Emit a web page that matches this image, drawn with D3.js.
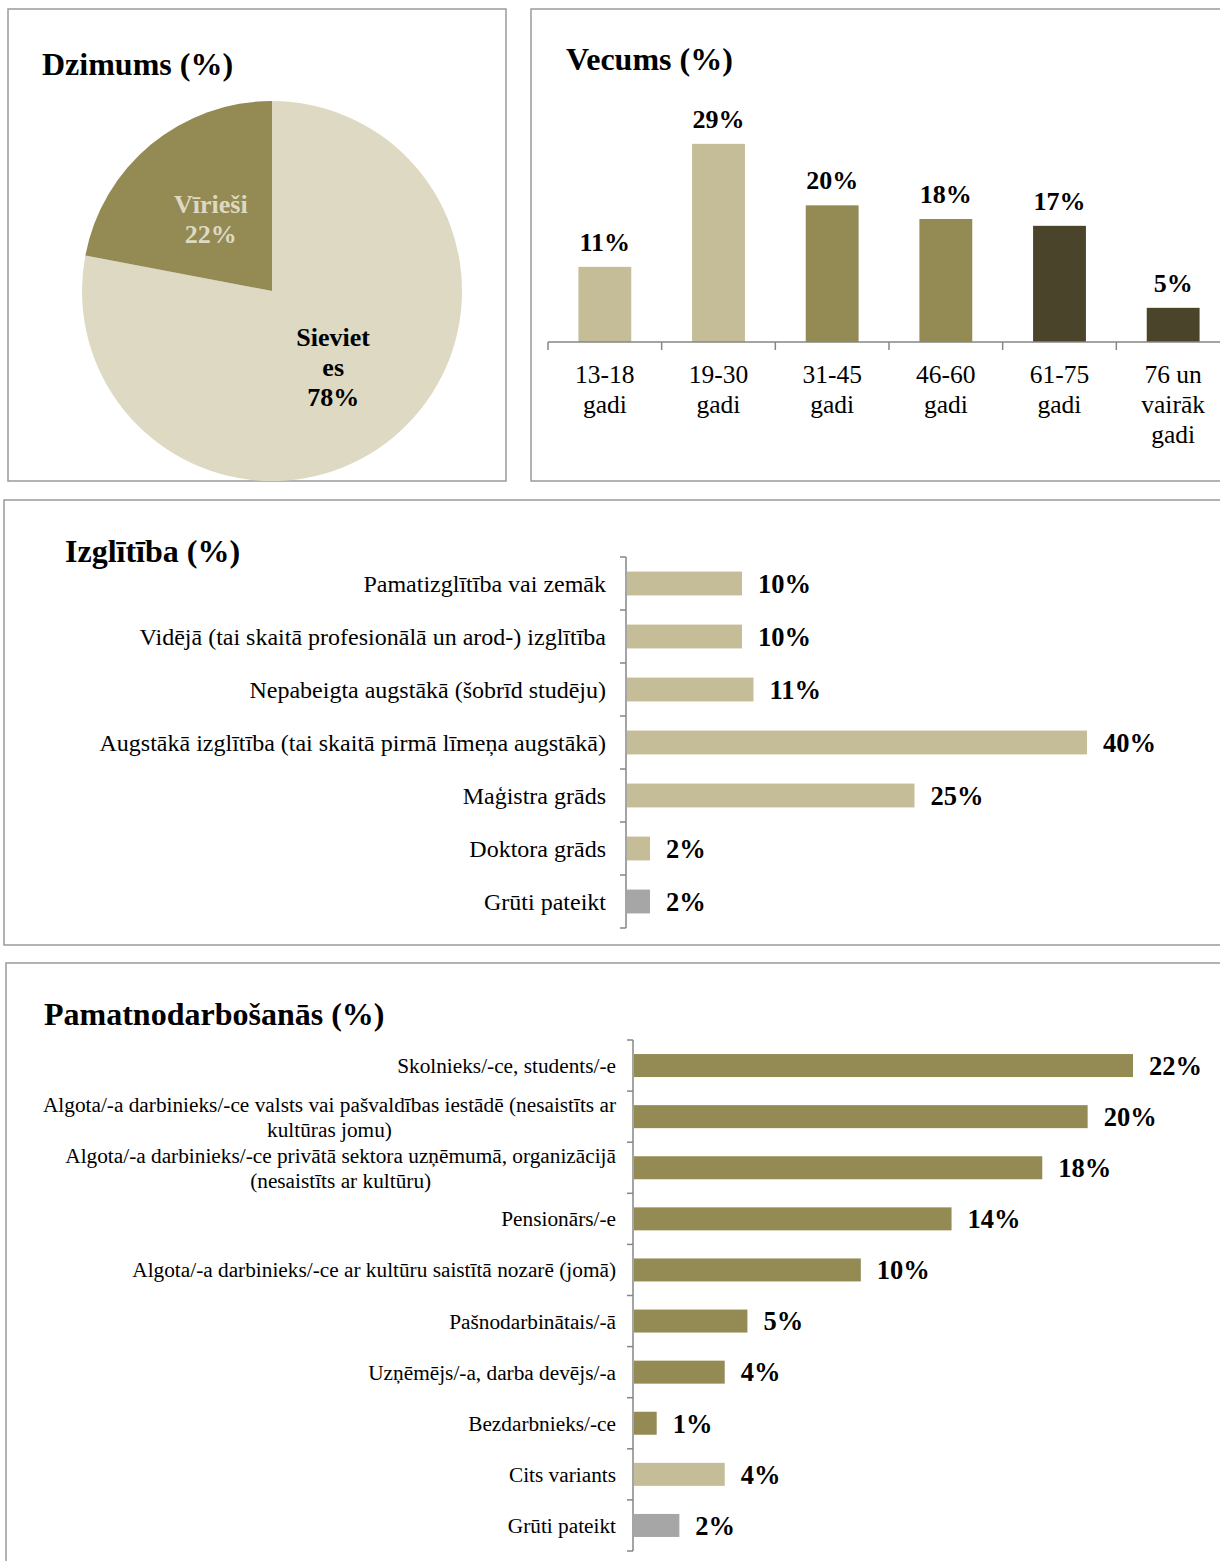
<!DOCTYPE html>
<html>
<head>
<meta charset="utf-8">
<script src="https://cdn.jsdelivr.net/npm/d3@7"></script>
<style>
  body { margin: 0; background: #fff; }
  svg { display: block; }
  text { font-family: "Liberation Serif", "Times New Roman", serif; fill: #000; }
</style>
</head>
<body>
<svg id="chart" width="1220" height="1561"></svg>
<script>
// ---- data ----
const genderNames = ["Sievietes", "Vīrieši"];
const genderValues = [78, 22];
const genderLabelLines = [["Sieviet", "es", "78%"], ["Vīrieši", "22%"]];

const ageLabels = [["13-18", "gadi"], ["19-30", "gadi"], ["31-45", "gadi"], ["46-60", "gadi"], ["61-75", "gadi"], ["76 un", "vairāk", "gadi"]];
const ageValues = [11, 29, 20, 18, 17, 5];

const eduLabels = [
  "Pamatizglītība vai zemāk",
  "Vidējā (tai skaitā profesionālā un arod-) izglītība",
  "Nepabeigta augstākā (šobrīd studēju)",
  "Augstākā izglītība (tai skaitā pirmā līmeņa augstākā)",
  "Maģistra grāds",
  "Doktora grāds",
  "Grūti pateikt"
];
const eduValues = [10, 10, 11, 40, 25, 2, 2];

const jobLabels = [
  ["Skolnieks/-ce, students/-e"],
  ["Algota/-a darbinieks/-ce valsts vai pašvaldības iestādē (nesaistīts ar", "kultūras jomu)"],
  ["Algota/-a darbinieks/-ce privātā sektora uzņēmumā, organizācijā", "(nesaistīts ar kultūru)"],
  ["Pensionārs/-e"],
  ["Algota/-a darbinieks/-ce ar kultūru saistītā nozarē (jomā)"],
  ["Pašnodarbinātais/-ā"],
  ["Uzņēmējs/-a, darba devējs/-a"],
  ["Bezdarbnieks/-ce"],
  ["Cits variants"],
  ["Grūti pateikt"]
];
const jobValues = [22, 20, 18, 14, 10, 5, 4, 1, 4, 2];

// colours
const pale = "#DDD9C3", tan = "#C4BD97", olive = "#948A54", dark = "#4A452A", grey = "#A6A6A6";
const genderColors = [pale, olive];
const genderTextColors = ["#000", pale];
const ageColors = [tan, tan, olive, olive, dark, dark];
const eduColors = [tan, tan, tan, tan, tan, tan, grey];
const jobColors = [olive, olive, olive, olive, olive, olive, olive, olive, tan, grey];

const svg = d3.select("#chart");
const axisColor = "#868686";

// panel frames
const frames = [
  { x: 8, y: 9, w: 498, h: 472 },
  { x: 531, y: 9, w: 700, h: 472 },
  { x: 4, y: 500, w: 1230, h: 445 },
  { x: 6, y: 963, w: 1230, h: 610 }
];
svg.selectAll("rect.frame").data(frames).join("rect")
  .attr("class", "frame")
  .attr("x", d => d.x).attr("y", d => d.y)
  .attr("width", d => d.w).attr("height", d => d.h)
  .attr("fill", "none").attr("stroke", "#9a9a9a").attr("stroke-width", 1.5);

function title(txt, x, y) {
  svg.append("text")
    .attr("x", x).attr("y", y)
    .attr("font-size", 32).attr("font-weight", "bold")
    .text(txt);
}

// ---- Dzimums (pie) ----
title("Dzimums (%)", 42, 75);
const pie = d3.pie().sort(null).value(d => d)(genderValues);
const arc = d3.arc().innerRadius(0).outerRadius(190);
const labelArc = d3.arc().innerRadius(96).outerRadius(96);
const pieG = svg.append("g").attr("transform", "translate(272,291)");
pieG.selectAll("path").data(pie).join("path")
  .attr("d", arc)
  .attr("fill", (d, i) => genderColors[i]);
pie.forEach((p, i) => {
  const [cx, cy] = labelArc.centroid(p);
  const lines = genderLabelLines[i];
  const t = pieG.append("text")
    .attr("text-anchor", "middle")
    .attr("font-size", 26).attr("font-weight", "bold")
    .style("fill", genderTextColors[i]);
  lines.forEach((l, k) => {
    t.append("tspan").attr("x", cx)
      .attr("y", cy + (k - (lines.length - 1) / 2) * 30 + 11)
      .text(l);
  });
});

// ---- Vecums (vertical bars) ----
title("Vecums (%)", 566, 70);
const ax = d3.scaleBand().domain(d3.range(ageValues.length)).range([548, 1230]);
const ay = d3.scaleLinear().domain([0, 30]).range([342, 137]);
const barW = ax.bandwidth() * 0.465;
const ageG = svg.append("g");
ageG.selectAll("rect").data(ageValues).join("rect")
  .attr("x", (d, i) => ax(i) + (ax.bandwidth() - barW) / 2)
  .attr("y", d => ay(d))
  .attr("width", barW)
  .attr("height", d => ay(0) - ay(d))
  .attr("fill", (d, i) => ageColors[i]);
ageG.append("line")
  .attr("x1", 548).attr("x2", 1230).attr("y1", ay(0)).attr("y2", ay(0))
  .attr("stroke", axisColor).attr("stroke-width", 1.5);
ageG.selectAll("line.tick").data(d3.range(ageValues.length + 1)).join("line")
  .attr("class", "tick")
  .attr("x1", i => i < ageValues.length ? ax(i) : 1230)
  .attr("x2", i => i < ageValues.length ? ax(i) : 1230)
  .attr("y1", ay(0)).attr("y2", ay(0) + 8)
  .attr("stroke", axisColor).attr("stroke-width", 1.5);
ageG.selectAll("text.val").data(ageValues).join("text")
  .attr("class", "val")
  .attr("x", (d, i) => ax(i) + ax.bandwidth() / 2)
  .attr("y", d => ay(d) - 16)
  .attr("text-anchor", "middle")
  .attr("font-size", 26).attr("font-weight", "bold")
  .text(d => d + "%");
ageLabels.forEach((lines, i) => {
  lines.forEach((l, k) => {
    ageG.append("text")
      .attr("x", ax(i) + ax.bandwidth() / 2)
      .attr("y", 383 + k * 30)
      .attr("text-anchor", "middle")
      .attr("font-size", 25.5)
      .text(l);
  });
});

// ---- horizontal bar helper ----
function hbars(cfg) {
  const g = svg.append("g");
  const y = d3.scaleBand().domain(d3.range(cfg.values.length)).range([cfg.top, cfg.bottom]);
  const x = d3.scaleLinear().domain([0, cfg.max]).range([cfg.axisX + 1, cfg.maxX]);
  const bh = y.bandwidth() * 0.45;
  g.selectAll("rect").data(cfg.values).join("rect")
    .attr("x", x(0))
    .attr("y", (d, i) => y(i) + (y.bandwidth() - bh) / 2)
    .attr("width", d => x(d) - x(0))
    .attr("height", bh)
    .attr("fill", (d, i) => cfg.colors[i]);
  g.append("line")
    .attr("x1", cfg.axisX).attr("x2", cfg.axisX)
    .attr("y1", cfg.top).attr("y2", cfg.bottom)
    .attr("stroke", axisColor).attr("stroke-width", 1.5);
  g.selectAll("line.tick").data(d3.range(cfg.values.length + 1)).join("line")
    .attr("class", "tick")
    .attr("x1", cfg.axisX - 6).attr("x2", cfg.axisX)
    .attr("y1", i => i < cfg.values.length ? y(i) : cfg.bottom)
    .attr("y2", i => i < cfg.values.length ? y(i) : cfg.bottom)
    .attr("stroke", axisColor).attr("stroke-width", 1.5);
  g.selectAll("text.val").data(cfg.values).join("text")
    .attr("class", "val")
    .attr("x", d => x(d) + 16)
    .attr("y", (d, i) => y(i) + y.bandwidth() / 2)
    .attr("dy", "0.35em")
    .attr("font-size", 26.5).attr("font-weight", "bold")
    .text(d => d + "%");
  cfg.labels.forEach((lines, i) => {
    const cy = y(i) + y.bandwidth() / 2;
    const t = g.append("text").attr("font-size", cfg.fontSize).attr("text-anchor", "middle");
    const spans = lines.map((l, k) => t.append("tspan")
      .attr("y", cy + (k - (lines.length - 1) / 2) * cfg.lineH)
      .attr("dy", "0.35em")
      .text(l));
    const wMax = d3.max(spans, s => s.node().getComputedTextLength());
    spans.forEach(s => s.attr("x", cfg.labelX - wMax / 2));
  });
}

// ---- Izglītība ----
title("Izglītība (%)", 65, 562);
hbars({
  values: eduValues, labels: eduLabels.map(d => [d]), colors: eduColors,
  top: 557, bottom: 928, axisX: 626, max: 40, maxX: 1087,
  labelX: 606, fontSize: 24, lineH: 28
});

// ---- Pamatnodarbošanās ----
title("Pamatnodarbošanās (%)", 44, 1025);
hbars({
  values: jobValues, labels: jobLabels, colors: jobColors,
  top: 1040, bottom: 1551, axisX: 633, max: 22, maxX: 1133,
  labelX: 616, fontSize: 21.3, lineH: 25
});
</script>
</body>
</html>
